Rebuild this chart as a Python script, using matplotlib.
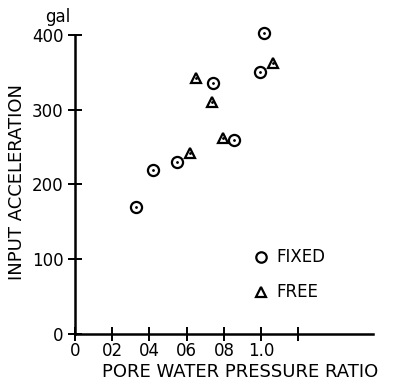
import matplotlib
matplotlib.use("Agg")
import matplotlib.pyplot as plt

# pore water pressure ratio vs input acceleration (gal)
fixed_x = [0.33, 0.42, 0.55, 0.74, 0.855, 0.995, 1.015]
fixed_y = [170, 219, 230, 336, 260, 350, 403]
free_x = [0.62, 0.65, 0.735, 0.795, 1.065]
free_y = [242, 343, 310, 262, 362]

xticks = [0, 0.2, 0.4, 0.6, 0.8, 1.0, 1.2]
xtick_labels = ["0", "02", "04", "06", "08", "1.0", ""]
yticks = [0, 100, 200, 300, 400]

plt.rcParams['font.family'] = ['DejaVu Sans']

fig = plt.figure(figsize=(3.96, 3.81), dpi=100)
ax = fig.add_axes([0.189, 0.1234, 0.753, 0.785])

mk = dict(linestyle='none', markerfacecolor='none', markeredgecolor='black',
          markeredgewidth=1.6)
ax.plot(fixed_x, fixed_y, marker='o', markersize=8, **mk, clip_on=False)
ax.plot(free_x, free_y, marker='^', markersize=6.5, **mk, clip_on=False)
ax.plot(fixed_x + free_x, fixed_y + free_y, linestyle='none', marker='.',
        markersize=2, color='black', clip_on=False)

# legend drawn as text + markers inside the axes
ax.plot([1.0], [103], marker='o', markersize=7.5, **mk)
ax.plot([1.0], [56], marker='^', markersize=6.5, **mk)
ax.text(1.08, 103, "FIXED", fontsize=12, va='center', ha='left')
ax.text(1.08, 56, "FREE", fontsize=12, va='center', ha='left')

ax.set_xlim(0, 1.6)
ax.set_ylim(0, 400)
ax.spines['top'].set_visible(False)
ax.spines['right'].set_visible(False)
ax.spines['left'].set_linewidth(1.8)
ax.spines['bottom'].set_linewidth(1.8)

ax.set_xticks(xticks)
ax.set_xticklabels(xtick_labels, fontsize=12)
ax.set_yticks(yticks)
ax.set_yticklabels([str(v) for v in yticks], fontsize=12)
ax.tick_params(direction='inout', length=10, width=1.4)
ax.tick_params(axis='x', pad=1)
ax.tick_params(axis='y', pad=3)

ax.set_xlabel("PORE WATER PRESSURE RATIO", fontsize=13)
ax.xaxis.set_label_coords(0.555, -0.098)
ax.set_ylabel("INPUT ACCELERATION", fontsize=13)
ax.yaxis.set_label_coords(-0.165, 0.508)
ax.text(-0.057, 1.043, "gal", transform=ax.transAxes, fontsize=12,
        ha='center', va='baseline')

fig.savefig("out.png", dpi=100)
